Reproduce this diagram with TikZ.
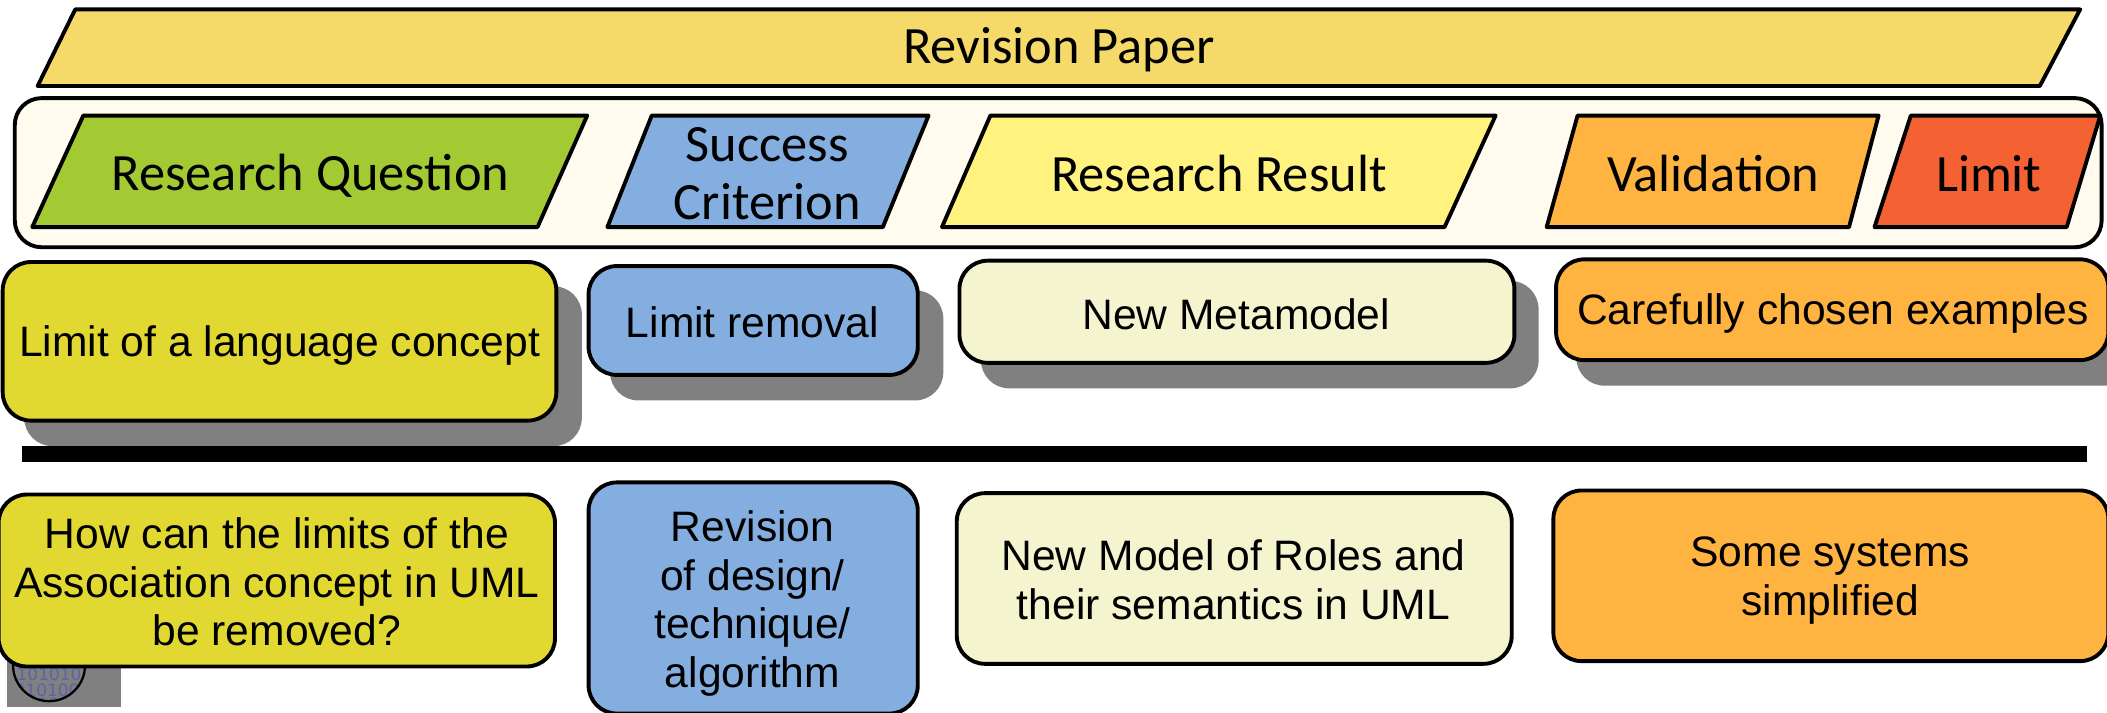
\documentclass[tikz,border=0pt]{standalone}
\usepackage{fontspec}
\setmainfont{Liberation Sans}
\newfontfamily\headfont{Carlito}
\newfontfamily\bitfont{DejaVu Sans}
\definecolor{cPaper}{HTML}{F5DA6A}
\definecolor{cBand}{HTML}{FFFBEE}
\definecolor{cGreen}{HTML}{A3C933}
\definecolor{cBlue}{HTML}{85AEE0}
\definecolor{cYellow}{HTML}{FFF27F}
\definecolor{cOrange}{HTML}{FFB340}
\definecolor{cRed}{HTML}{F46133}
\definecolor{cOlive}{HTML}{E2D832}
\definecolor{cPale}{HTML}{F4F4CF}
\definecolor{cShadow}{HTML}{808080}
\definecolor{cBits}{HTML}{5F62A8}
\tikzset{
  x=1pt,y=-1pt,
  outline/.style={draw=black,line width=2.9pt,line join=round},
  headtext/.style={inner sep=0pt,align=center,font=\headfont\fontsize{39}{43}\selectfont},
  bodytext/.style={inner sep=0pt,align=center,font=\fontsize{31.7}{36.2}\selectfont},
  roundbox/.style={outline,rounded corners=21pt},
  shadowbox/.style={fill=cShadow,rounded corners=21pt},
  bits/.style={inner sep=0pt,text=cBits,font=\bitfont\fontsize{12.6}{14}\selectfont}
}
\begin{document}
\begin{tikzpicture}
\useasboundingbox (0,0) rectangle (1568,530.6);
% top band
\draw[outline,fill=cPaper] (56,7) -- (1548,7) -- (1518,64) -- (28,64) -- cycle;
\node[headtext] (paper) at (788,37) {Revision Paper};
\draw[outline,fill=cBand,rounded corners=20pt] (11,73) rectangle (1564,184);
\draw[outline,fill=cGreen] (62,86) -- (437,86) -- (400,169) -- (24,169) -- cycle;
\node[headtext] (rq) at (231,131) {Research Question};
\draw[outline,fill=cBlue] (485,86) -- (691,86) -- (657,169) -- (452,169) -- cycle;
\node[headtext] (sc) at (571,129.5) {Success\\Criterion};
\draw[outline,fill=cYellow] (737,86) -- (1113,86) -- (1075,169) -- (701,169) -- cycle;
\node[headtext] (rr) at (907,129) {Research Result};
\draw[outline,fill=cOrange] (1174,86) -- (1398,86) -- (1376,169) -- (1151,169) -- cycle;
\node[headtext] (val) at (1275,129) {Validation};
\draw[outline,fill=cRed] (1422,86) -- (1563,86) -- (1538,169) -- (1395,169) -- cycle;
\node[headtext] (lim) at (1480,129) {Limit};
% shadows
\fill[shadowbox] (18,213) rectangle (433,332);
\fill[shadowbox] (454,216) rectangle (702,298);
\fill[shadowbox] (730,209) rectangle (1145,289);
\fill[shadowbox] (1173,210) rectangle (1590,287);
% first row
\draw[roundbox,fill=cOlive] (2,195) rectangle (414,313);
\node[bodytext] (a1) at (208,257) {Limit of a language concept};
\draw[roundbox,fill=cBlue] (438,198) rectangle (683,279);
\node[bodytext] (b1) at (560,240) {Limit removal};
\draw[roundbox,fill=cPale] (714,194) rectangle (1127,270);
\node[bodytext] (c1) at (920,234) {New Metamodel};
\draw[roundbox,fill=cOrange] (1158,193) rectangle (1569,268);
\node[bodytext] (d1) at (1364,233) {Carefully chosen examples};
% bar
\fill[black] (16,332) rectangle (1553,344);
% badge
\fill[cShadow] (5,480) rectangle (90,526);
\begin{scope}
\clip (36.5,495) circle[radius=27];
\node[bits] (bits1) at (36.5,502) {101010};
\node[bits] (bits2) at (35,513.5) {010100};
\node[bits] (bits3) at (36,524) {101010};
\end{scope}
\draw[draw=black,line width=1.7pt] (36.5,495) circle[radius=26.8];
% second row
\draw[roundbox,fill=cOlive] (-1,368) rectangle (413,496);
\node[bodytext] (a2) at (206,433) {How can the limits of the\\Association concept in UML\\be removed?};
\draw[roundbox,fill=cBlue] (438,359) rectangle (683,531);
\node[bodytext] (b2) at (560,449) {Revision\\of design/\\technique/\\algorithm};
\draw[roundbox,fill=cPale] (712,367) rectangle (1125,494);
\node[bodytext] (c2) at (918,431.5) {New Model of Roles and\\their semantics in UML};
\draw[roundbox,fill=cOrange] (1156,365) rectangle (1569,492);
\node[bodytext] (d2) at (1362,432) {Some systems\\simplified};
\end{tikzpicture}
\end{document}
